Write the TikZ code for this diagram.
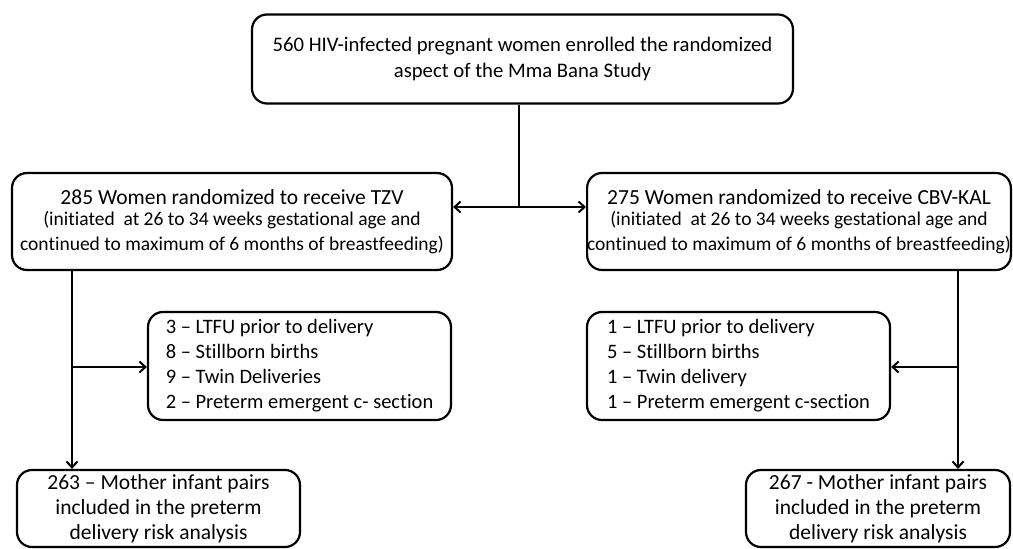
\documentclass[tikz,border=0pt]{standalone}
\usepackage{fontspec}
\setmainfont{Carlito}[Ligatures=NoCommon]
\usetikzlibrary{arrows.meta}
\begin{document}
\begin{tikzpicture}[x=1pt,y=-1pt,
  box/.style={draw=black,line width=2.2pt,rounded corners=15pt,inner sep=0pt,align=center,
    font=\fontsize{21.5}{26}\selectfont},
  excl/.style={draw=black,line width=2.2pt,rounded corners=15pt,inner sep=0pt,
    align=left,font=\fontsize{20.5}{25}\selectfont},
  conn/.style={line width=2.2pt},
  arr/.style={conn,-{Straight Barb[length=6pt,width=11pt,line width=2pt]}},
  darr/.style={conn,{Straight Barb[length=6pt,width=11pt,line width=2pt]}-{Straight Barb[length=6pt,width=11pt,line width=2pt]}}]
\useasboundingbox (0,0) rectangle (1013,549);
\node[box,minimum width=541pt,minimum height=89pt,font=\fontsize{20.7}{26}\selectfont] (top) at (522.5,59)
  {560 HIV-infected pregnant women enrolled the randomized\\aspect of the Mma Bana Study};
\node[box,minimum width=440pt,minimum height=97pt] (tzv) at (232,221.5)
  {\raisebox{-3pt}{285 Women randomized to receive TZV}\\[-2pt]
   {\fontsize{19.5}{24}\selectfont (initiated\ \ at 26 to 34 weeks gestational age and}\\[-1pt]
   {\fontsize{19.5}{24}\selectfont continued to maximum of 6 months of breastfeeding)}};
\node[box,minimum width=422pt,minimum height=97pt] (cbv) at (799,221.5)
  {\raisebox{-3pt}{275 Women randomized to receive CBV-KAL}\\[-2pt]
   {\fontsize{19.5}{24}\selectfont (initiated\ \ at 26 to 34 weeks gestational age and}\\[-1pt]
   {\fontsize{19.5}{24}\selectfont continued to maximum of 6 months of breastfeeding)}};
\node[excl,minimum width=303pt,minimum height=108pt] (exl) at (299.5,366)
  {3 -- LTFU prior to delivery\\8 -- Stillborn births\\9 -- Twin Deliveries\\2 -- Preterm emergent c- section};
\node[excl,minimum width=303pt,minimum height=108pt] (exr) at (738.5,366)
  {1 -- LTFU prior to delivery\\5 -- Stillborn births\\1 -- Twin delivery\\1 -- Preterm emergent c-section};
\node[box,minimum width=283pt,minimum height=77pt,font=\fontsize{21.5}{25}\selectfont] (bl) at (158.5,508.5)
  {263 -- Mother infant pairs\\included in the preterm\\delivery risk analysis};
\node[box,minimum width=264pt,minimum height=77pt,font=\fontsize{21.5}{25}\selectfont] (br) at (878,508.5)
  {267 - Mother infant pairs\\included in the preterm\\delivery risk analysis};
% connectors
\coordinate (j) at (519,207);
\coordinate (jl) at (72,367);
\coordinate (jr) at (958,367);
\draw[conn] (top.south -| j) -- (j);
\draw[darr] (tzv.east |- j) -- (cbv.west |- j);
\draw[arr] (tzv.south -| jl) -- (bl.north -| jl);
\draw[arr] (jl) -- (exl.west |- jl);
\draw[arr] (cbv.south -| jr) -- (br.north -| jr);
\draw[arr] (jr) -- (exr.east |- jr);
\end{tikzpicture}
\end{document}
